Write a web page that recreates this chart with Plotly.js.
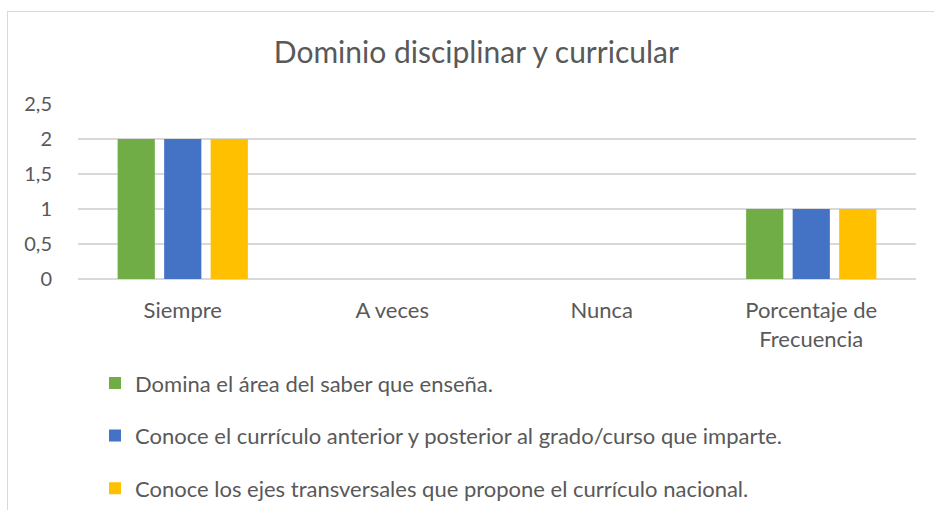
<!DOCTYPE html>
<html>
<head>
<meta charset="utf-8">
<script src="https://cdn.plot.ly/plotly-3.0.1.min.js"></script>
<style>
html,body{margin:0;padding:0;background:#fff;overflow:hidden;}
#wrap{position:relative;width:934px;height:510px;overflow:hidden;}
#chart{width:934px;height:530px;}
#frame{position:absolute;left:7px;top:11px;width:940px;height:520px;border-top:1.5px solid #D9D9D9;border-left:1.5px solid #D9D9D9;pointer-events:none;}
</style>
</head>
<body>
<div id="wrap"><div id="chart"></div><div id="frame"></div></div>
<script>
const categories = ["Siempre", "A veces", "Nunca", "Porcentaje de<br>Frecuencia"];
const seriesNames = [
  "Domina el área del saber que enseña.",
  "Conoce el currículo anterior y posterior al grado/curso que imparte.",
  "Conoce los ejes transversales que propone el currículo nacional."
];
const dominaValues = [2, 0, 0, 1];
const conoceCurriculoValues = [2, 0, 0, 1];
const conoceEjesValues = [2, 0, 0, 1];
const colors = ["#70AD47", "#4472C4", "#FFC000"];
const yTickVals = [0, 0.5, 1, 1.5, 2, 2.5];

const valuesList = [dominaValues, conoceCurriculoValues, conoceEjesValues];
const font = "Lato, 'Open Sans', sans-serif";
const traces = valuesList.map((v, i) => ({
  type: "bar",
  x: categories,
  y: v,
  name: seriesNames[i],
  legendgroup: "g" + i,
  marker: {color: colors[i]},
  hoverinfo: "none"
}));

const layout = {
  width: 934, height: 530,
  margin: {l: 78, r: 18, t: 104, b: 251},
  paper_bgcolor: "#fff", plot_bgcolor: "#fff",
  separators: ",.",
  font: {family: font, color: "#595959", size: 21},
  title: {text: "Dominio disciplinar y curricular", font: {family: font, size: 30, color: "#595959"}, x: 0.51, xanchor: "center", y: 1, yref: "paper", yanchor: "bottom", pad: {b: 41}},
  barmode: "group",
  bargap: 0.334,
  bargroupgap: 0.2,
  xaxis: {showgrid: false, showline: false, zeroline: false, ticks: "", ticklabelstandoff: 16, tickfont: {size: 22, family: font, color: "#595959"}},
  yaxis: {range: [0, 2.5], tickvals: yTickVals, showgrid: true, gridcolor: "#D9D9D9", gridwidth: 1.5, zeroline: true, zerolinecolor: "#D9D9D9", zerolinewidth: 1.5, showline: false, ticks: "", ticklabelstandoff: 25, tickfont: {size: 20, family: font, color: "#595959"}},
  showlegend: true,
  legend: {orientation: "v", x: 0.0203, xanchor: "left", y: -0.475, yanchor: "top", traceorder: "grouped", tracegroupgap: 21, font: {size: 22, family: font, color: "#595959"}, bgcolor: "rgba(0,0,0,0)"}
};

Plotly.newPlot("chart", traces, layout, {displayModeBar: false, staticPlot: true});
</script>
</body>
</html>
